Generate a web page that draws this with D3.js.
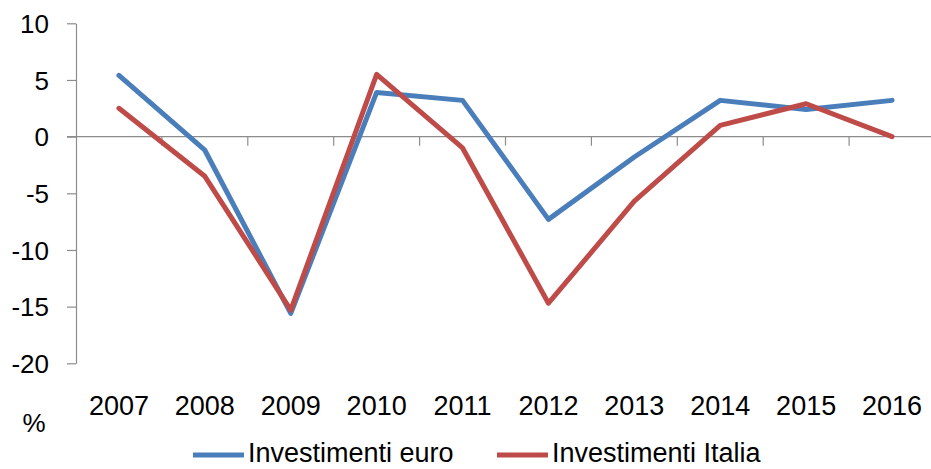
<!DOCTYPE html>
<html>
<head>
<meta charset="utf-8">
<script src="https://cdn.jsdelivr.net/npm/d3@7"></script>
<style>
  body { margin: 0; background: #fff; }
  svg { display: block; }
  text { font-family: "Liberation Sans", Arial, sans-serif; fill: #000; }
</style>
</head>
<body>
<div id="chart"></div>
<script>
// values (% change)
const years = ["2007", "2008", "2009", "2010", "2011", "2012", "2013", "2014", "2015", "2016"];
const investimentiEuro = [5.4, -1.2, -15.6, 3.9, 3.2, -7.3, -1.8, 3.2, 2.4, 3.2];
const investimentiItalia = [2.5, -3.5, -15.3, 5.5, -1.0, -14.7, -5.7, 1.0, 2.9, 0.0];
const yTicks = [-20, -15, -10, -5, 0, 5, 10];

const seriesNames = ["Investimenti euro", "Investimenti Italia"];
const seriesColors = ["#4A7EBB", "#BE4B48"];

const width = 931, height = 469;

const svg = d3.select("#chart").append("svg")
    .attr("width", width)
    .attr("height", height);

const x = d3.scaleBand()
    .domain(years)
    .range([76, 935]);

const y = d3.scaleLinear()
    .domain([-20, 10])
    .range([363.3, 23.3]);

// y axis
const yAxis = svg.append("g")
    .attr("transform", "translate(76,0)")
    .call(d3.axisLeft(y).tickValues(yTicks).tickSize(9).tickSizeOuter(0).tickPadding(18));
yAxis.select(".domain").attr("stroke", "#8c8c8c").attr("stroke-width", 1.2);
yAxis.selectAll(".tick line").attr("stroke", "#8c8c8c").attr("stroke-width", 1.2);
yAxis.selectAll(".tick text")
    .style("font-size", "26px")
    .attr("dy", "0.35em")
    .text(d => d);

// zero line with category boundary ticks
const zeroY = y(0);
svg.append("line")
    .attr("x1", 67).attr("x2", 935)
    .attr("y1", zeroY).attr("y2", zeroY)
    .attr("stroke", "#8c8c8c").attr("stroke-width", 1.2);

const boundaries = years.map(d => x(d)).concat([x.range()[1]]);
svg.append("g").selectAll("line")
    .data(boundaries.slice(1))
    .join("line")
    .attr("x1", d => d).attr("x2", d => d)
    .attr("y1", zeroY).attr("y2", zeroY + 9)
    .attr("stroke", "#8c8c8c").attr("stroke-width", 1.2);

// category labels at the bottom
const xAxis = svg.append("g")
    .attr("transform", "translate(0,396)")
    .call(d3.axisBottom(x).tickSize(0).tickPadding(0));
xAxis.select(".domain").remove();
xAxis.selectAll(".tick text")
    .style("font-size", "27px")
    .attr("dy", "0.71em");

svg.append("text")
    .attr("x", 34).attr("y", 432)
    .attr("text-anchor", "middle")
    .style("font-size", "26px")
    .text("%");

// lines
const line = d3.line()
    .x((d, i) => x(years[i]) + x.bandwidth() / 2)
    .y(d => y(d));

[investimentiEuro, investimentiItalia].forEach((vals, k) => {
    svg.append("path")
        .datum(vals)
        .attr("fill", "none")
        .attr("stroke", seriesColors[k])
        .attr("stroke-width", 5)
        .attr("stroke-linejoin", "round")
        .attr("stroke-linecap", "round")
        .attr("d", line);
});

// legend
const legendItems = [
    { name: seriesNames[0], color: seriesColors[0], x: 193 },
    { name: seriesNames[1], color: seriesColors[1], x: 497 }
];
const legend = svg.append("g");
legendItems.forEach(item => {
    legend.append("line")
        .attr("x1", item.x).attr("x2", item.x + 51)
        .attr("y1", 455).attr("y2", 455)
        .attr("stroke", item.color)
        .attr("stroke-width", 5);
    legend.append("text")
        .attr("x", item.x + 55)
        .attr("y", 462)
        .style("font-size", "27px")
        .text(item.name);
});
</script>
</body>
</html>
